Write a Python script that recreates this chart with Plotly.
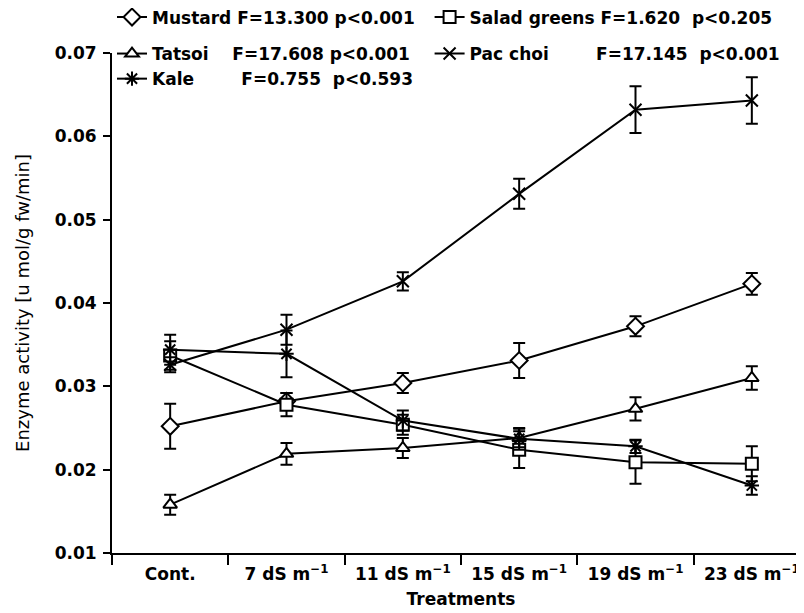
import plotly.graph_objects as go

categories = ["Cont.", "7 dS m<sup>−1</sup>", "11 dS m<sup>−1</sup>", "15 dS m<sup>−1</sup>",
              "19 dS m<sup>−1</sup>", "23 dS m<sup>−1</sup>"]

mustard = [0.0252, 0.0282, 0.0304, 0.0331, 0.0372, 0.0423]
mustard_err = [0.0027, 0.0010, 0.0012, 0.0021, 0.0012, 0.0013]
salad = [0.0337, 0.0278, 0.0254, 0.0224, 0.0209, 0.0207]
salad_err = [0.0017, 0.0014, 0.0012, 0.0022, 0.0026, 0.0021]
tatsoi = [0.0158, 0.0219, 0.0226, 0.0238, 0.0273, 0.0310]
tatsoi_err = [0.0012, 0.0013, 0.0012, 0.0011, 0.0014, 0.0014]
pacchoi = [0.0326, 0.0368, 0.0426, 0.0531, 0.0632, 0.0643]
pacchoi_err = [0.0009, 0.0018, 0.0011, 0.0018, 0.0028, 0.0028]
kale = [0.0344, 0.0339, 0.0259, 0.0237, 0.0228, 0.0181]
kale_err = [0.0018, 0.0028, 0.0012, 0.0013, 0.0008, 0.0011]

NB = "\u00a0"
names = [
    "Mustard F=13.300 p<0.001",
    "Salad greens" + NB + "F=1.620" + NB * 2 + "p<0.205",
    "Tatsoi" + NB * 4 + "F=17.608 p<0.001",
    "Pac choi" + NB * 8 + "F=17.145" + NB * 2 + "p<0.001",
    "Kale" + NB * 8 + "F=0.755" + NB * 2 + "p<0.593",
]
legend_ids = ["legend", "legend2", "legend3", "legend4", "legend3"]
series = [mustard, salad, tatsoi, pacchoi, kale]
errs = [mustard_err, salad_err, tatsoi_err, pacchoi_err, kale_err]
symbols = ["diamond", "square", "triangle-up", "x-thin", "asterisk"]
sizes = [13, 12, 12, 12, 12]
fills = ["white", "white", "white", "black", "black"]

FONT = "DejaVu Sans"
fig = go.Figure()
for nm, lg, ys, er, sym, sz, fc in zip(names, legend_ids, series, errs, symbols, sizes, fills):
    fig.add_trace(go.Scatter(
        x=categories, y=ys, name=nm, mode="lines+markers", legend=lg,
        line=dict(color="black", width=2),
        marker=dict(symbol=sym, size=sz, color=fc, line=dict(color="black", width=2)),
        error_y=dict(type="data", array=er, visible=True, color="black", thickness=2, width=6),
    ))

legend_common = dict(orientation="v", xanchor="left", yanchor="top",
                     bgcolor="rgba(0,0,0,0)", font=dict(family=FONT, size=17, weight="bold"),
                     traceorder="normal", itemwidth=30, tracegroupgap=0)

top_row = 1.107
second_row = 1.034
fig.update_layout(
    width=804, height=613,
    margin=dict(l=104, r=2, t=45, b=68, autoexpand=False),
    paper_bgcolor="white", plot_bgcolor="white",
    font=dict(family=FONT, size=17, color="black", weight="bold"),
    showlegend=True,
    legend=dict(x=0.0, y=top_row, **legend_common),
    legend2=dict(x=0.455, y=top_row, **legend_common),
    legend3=dict(x=0.0, y=second_row, **legend_common),
    legend4=dict(x=0.455, y=second_row, **legend_common),
)
fig.update_xaxes(
    type="category", range=[-0.5, 5.5], tickson="boundaries",
    showline=True, linecolor="black", linewidth=2,
    ticks="outside", ticklen=10, tickwidth=2, tickcolor="black",
    ticklabelstandoff=5,
    showgrid=False, zeroline=False,
    title=dict(text="Treatments", standoff=10, font=dict(family=FONT, size=17, weight="bold")),
)
fig.update_yaxes(
    range=[0.01, 0.07], tickvals=[0.01, 0.02, 0.03, 0.04, 0.05, 0.06, 0.07],
    tickformat=".2f",
    showline=True, linecolor="black", linewidth=2,
    ticks="outside", ticklen=7, tickwidth=2, tickcolor="black",
    ticklabelstandoff=3,
    showgrid=False, zeroline=False,
    title=dict(text="Enzyme activity [u mol/g fw/min]", standoff=20,
               font=dict(family=FONT, size=18, weight="normal")),
)
fig.write_html("out.html")
